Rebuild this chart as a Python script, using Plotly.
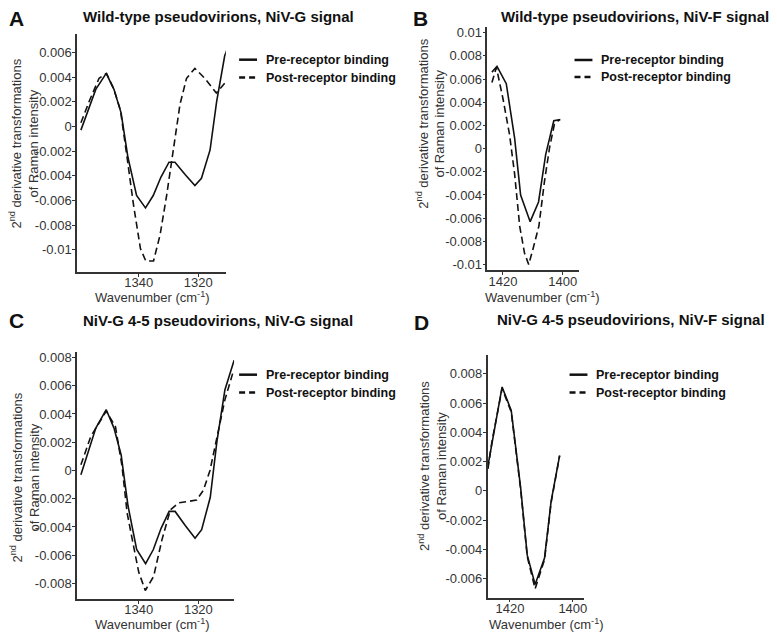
import plotly.graph_objects as go

W, H = 777, 634
OFF = 8  # the page body has an 8px margin, so the figure starts at (8, 8)

# NiV-G signal, pre-receptor binding (same spectrum in panels A and C)
wn_g_pre = [1359.4, 1354.4, 1350.9, 1348.3, 1345.9, 1343.6, 1340.7, 1337.7, 1335.1, 1332.5,
            1329.8, 1327.8, 1324.4, 1321.1, 1318.9, 1316.0, 1313.8, 1311.1, 1308.0]
g_pre = [-0.0003, 0.0030, 0.0043, 0.0030, 0.0011, -0.0025, -0.0056, -0.0066, -0.0056, -0.0041,
         -0.0029, -0.0029, -0.0039, -0.0048, -0.0042, -0.0019, 0.0020, 0.0057, 0.0078]

# A: wild-type, post-receptor binding
wn_a_post = [1359.4, 1356.5, 1353.3, 1350.8, 1348.3, 1346.1, 1343.9, 1341.7, 1339.4, 1337.6,
             1335.0, 1332.8, 1330.6, 1328.3, 1326.1, 1323.9, 1321.1, 1317.8, 1313.9, 1311.1]
a_post = [0.0003, 0.0021, 0.0039, 0.0043, 0.0030, 0.0013, -0.0025, -0.0064, -0.0099, -0.0109,
          -0.0109, -0.0088, -0.0056, -0.0019, 0.0018, 0.0039, 0.0047, 0.0039, 0.0027, 0.0035]

# C: NiV-G 4-5, post-receptor binding
wn_c_post = [1359.4, 1356.1, 1350.9, 1347.8, 1345.6, 1343.9, 1341.7, 1340.0, 1337.8, 1335.0,
             1332.2, 1329.4, 1326.7, 1323.3, 1320.6, 1318.3, 1316.1, 1313.9, 1311.1, 1308.3]
c_post = [0.0004, 0.0024, 0.0042, 0.0031, 0.0003, -0.0030, -0.0054, -0.0072, -0.0085, -0.0075,
          -0.0049, -0.0028, -0.0023, -0.0022, -0.0021, -0.0014, 0.0000, 0.0022, 0.0050, 0.0070]

# B: wild-type, NiV-F signal
wn_b_pre = [1423.7, 1422.0, 1418.9, 1416.1, 1414.1, 1411.9, 1410.9, 1408.1, 1405.7, 1403.0, 1400.8]
b_pre = [0.0066, 0.0071, 0.0056, 0.0009, -0.0040, -0.0057, -0.0063, -0.0046, -0.0005, 0.0024, 0.0025]
wn_b_post = [1423.7, 1422.2, 1420.0, 1417.8, 1416.1, 1414.4, 1412.8, 1411.4, 1410.0, 1408.0,
             1406.1, 1404.4, 1402.8, 1401.1]
b_post = [0.0057, 0.0070, 0.0043, 0.0012, -0.0022, -0.0067, -0.0090, -0.0100, -0.0087, -0.0067,
          -0.0028, 0.0001, 0.0021, 0.0025]

# D: NiV-G 4-5, NiV-F signal
wn_d = [1427.0, 1425.7, 1422.5, 1419.6, 1416.6, 1414.5, 1412.0, 1409.0, 1406.9, 1404.2]
d_pre = [0.0017, 0.0032, 0.0071, 0.0055, 0.0002, -0.0044, -0.0064, -0.0046, -0.0007, 0.0024]
d_post = [0.0015, 0.0034, 0.0070, 0.0054, 0.0001, -0.0045, -0.0067, -0.0047, -0.0008, 0.0024]

titles = ["Wild-type pseudovirions, NiV-G signal", "Wild-type pseudovirions, NiV-F signal",
          "NiV-G 4-5 pseudovirions, NiV-G signal", "NiV-G 4-5 pseudovirions, NiV-F signal"]
letters = ["A", "B", "C", "D"]
legend_names = ["Pre-receptor binding", "Post-receptor binding"]
x_title = "Wavenumber (cm<sup>-1</sup>)"
y_title = "2<sup>nd</sup> derivative transformations<br>of Raman intensity"

yticks_a = [-0.01, -0.008, -0.006, -0.004, -0.002, 0, 0.002, 0.004, 0.006]
yticks_b = [-0.01, -0.008, -0.006, -0.004, -0.002, 0, 0.002, 0.004, 0.006, 0.008, 0.01]
yticks_c = [-0.008, -0.006, -0.004, -0.002, 0, 0.002, 0.004, 0.006, 0.008]
yticks_d = [-0.006, -0.004, -0.002, 0, 0.002, 0.004, 0.006, 0.008]
xticks_g = [1340, 1320]
xticks_f = [1420, 1400]


def tick_text(vals):
    return ["0" if v == 0 else ("%g" % v) for v in vals]


def px(x):
    return (x - OFF) / W


def py(y):
    return 1 - (y - OFF) / H


# panel boxes in page pixels: left, top, right, bottom
boxes = [(77.3, 32, 226.7, 271.7), (489.3, 25, 581.7, 270),
         (77.3, 352, 235, 600.7), (489.5, 355, 586.7, 599.3)]
xranges = [[1360.7, 1310.7], [1425.2, 1394.4], [1360.7, 1308.0], [1427.1, 1396.3]]
yranges = [[-0.0118, 0.0075], [-0.0105, 0.0105], [-0.0091, 0.0084], [-0.0073, 0.0093]]
yticks = [yticks_a, yticks_b, yticks_c, yticks_d]
xticks = [xticks_g, xticks_f, xticks_g, xticks_f]

series = [
    (wn_g_pre, g_pre, wn_a_post, a_post),
    (wn_b_pre, b_pre, wn_b_post, b_post),
    (wn_g_pre, g_pre, wn_c_post, c_post),
    (wn_d, d_pre, wn_d, d_post),
]

fig = go.Figure()
layout = dict(width=W, height=H, margin=dict(l=0, r=0, t=0, b=0),
              paper_bgcolor="white", plot_bgcolor="white", showlegend=False,
              font=dict(family="Liberation Sans, Arial, sans-serif", color="#333"))

axis_font = dict(family="Liberation Sans, Arial", size=13, color="#333")
annotations = []
shapes = []

for i in range(4):
    n = "" if i == 0 else str(i + 1)
    l, t, r, b = boxes[i]
    xs, ys, xd, yd = series[i]
    fig.add_trace(go.Scatter(x=xs, y=ys, mode="lines", name=legend_names[0],
                             line=dict(color="#111", width=1.6),
                             xaxis="x" + n, yaxis="y" + n))
    fig.add_trace(go.Scatter(x=xd, y=yd, mode="lines", name=legend_names[1],
                             line=dict(color="#111", width=1.6, dash="7px,4px"),
                             xaxis="x" + n, yaxis="y" + n))
    layout["xaxis" + n] = dict(
        domain=[px(l), px(r)], anchor="y" + n, range=xranges[i],
        showline=True, linecolor="#333", linewidth=1.5, showgrid=False, zeroline=False,
        ticks="outside", ticklen=3, tickcolor="#333", tickwidth=1, ticklabelstandoff=-5,
        tickvals=xticks[i], ticktext=[str(v) for v in xticks[i]], tickfont=axis_font)
    layout["yaxis" + n] = dict(
        domain=[py(b), py(t)], anchor="x" + n, range=yranges[i],
        showline=True, linecolor="#333", linewidth=1.5, showgrid=False, zeroline=False,
        ticks="outside", ticklen=3, tickcolor="#333", tickwidth=1, ticklabelstandoff=-2,
        tickvals=yticks[i], ticktext=tick_text(yticks[i]), tickfont=axis_font)

# axis titles
xt_pos = [(153, 297), (545, 297), (153, 626), (549, 626)]
yt_pos = [(23.5, 142), (432, 122), (24.5, 478), (433.5, 467)]
for i in range(4):
    annotations.append(dict(x=px(xt_pos[i][0]), y=py(xt_pos[i][1]), xref="paper", yref="paper",
                            text=x_title, showarrow=False, xanchor="center", yanchor="middle",
                            font=axis_font))
    annotations.append(dict(x=px(yt_pos[i][0]), y=py(yt_pos[i][1]), xref="paper", yref="paper",
                            text=y_title, showarrow=False, xanchor="center", yanchor="middle",
                            textangle=-90, font=axis_font))

# titles and panel letters
title_pos = [(219, 14.5), (637, 14.5), (219, 320), (633, 319)]
letter_pos = [(17, 17), (422, 17), (17, 320), (423, 322)]
for i in range(4):
    tx, ty = title_pos[i]
    annotations.append(dict(x=px(tx), y=py(ty), xref="paper", yref="paper",
                            text="<b>%s</b>" % titles[i], showarrow=False,
                            xanchor="center", yanchor="middle",
                            font=dict(family="Liberation Sans, Arial", size=15, color="#111")))
    lx, ly = letter_pos[i]
    annotations.append(dict(x=px(lx), y=py(ly), xref="paper", yref="paper",
                            text="<b>%s</b>" % letters[i], showarrow=False,
                            xanchor="center", yanchor="middle",
                            font=dict(family="Liberation Sans, Arial", size=21, color="#111")))

# legends drawn beside each panel
legend_pos = [(240, 265, 58, 76), (576.7, 601.7, 58.3, 75.5),
              (240, 265, 375, 393), (571.7, 596.7, 375, 393)]
for i in range(4):
    x0, xt, y1, y2 = legend_pos[i]
    for k, yy in enumerate([y1, y2]):
        shapes.append(dict(type="line", xref="paper", yref="paper",
                           x0=px(x0), x1=px(x0 + 18), y0=py(yy), y1=py(yy),
                           line=dict(color="#111", width=2.5,
                                     dash="solid" if k == 0 else "6px,4px")))
        annotations.append(dict(x=px(xt), y=py(yy), xref="paper", yref="paper",
                                text="<b>%s</b>" % legend_names[k], showarrow=False,
                                xanchor="left", yanchor="middle",
                                font=dict(family="Liberation Sans, Arial", size=12.5, color="#111")))

layout["annotations"] = annotations
layout["shapes"] = shapes
fig.update_layout(**layout)

fig.write_html("out.html")
